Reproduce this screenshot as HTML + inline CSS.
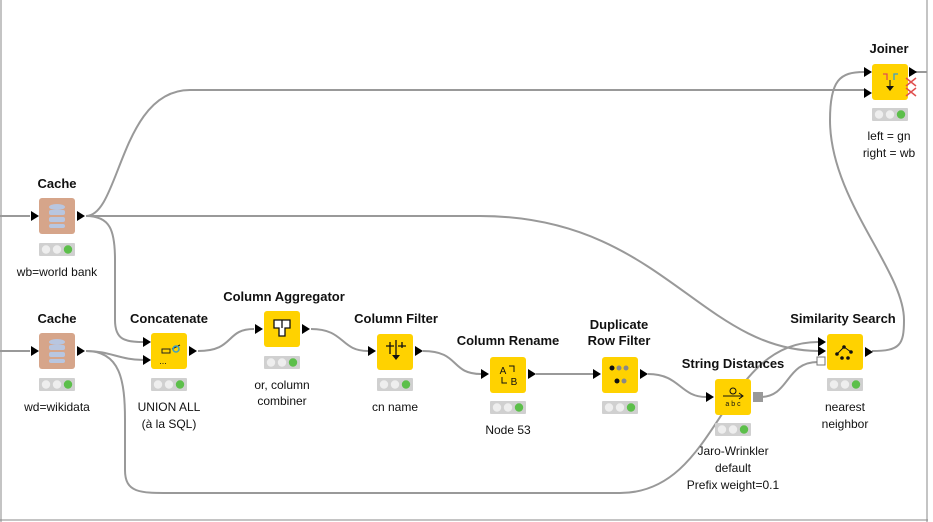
<!DOCTYPE html>
<html><head><meta charset="utf-8"><style>
html,body{margin:0;padding:0;background:#fff}
svg{display:block}
text{font-family:"Liberation Sans",sans-serif;font-size:12px;fill:#111;text-anchor:middle}
.t{font-weight:bold;font-size:13px}
.e{fill:none;stroke:#999;stroke-width:2}
</style></head><body>
<svg width="933" height="522" viewBox="0 0 933 522" xmlns="http://www.w3.org/2000/svg">
<defs>
<g id="st"><rect x="0" y="0" width="36" height="13" rx="1" fill="#d0d0d0"/><circle cx="7" cy="6.5" r="4.2" fill="#eee"/><circle cx="18" cy="6.5" r="4.2" fill="#eee"/><circle cx="29" cy="6.5" r="4.2" fill="#5cbf4a"/></g>
<path id="ar" d="M0,-5 L8,0 L0,5 Z" fill="#000"/>
</defs>
<!-- frame -->
<line x1="1" y1="0" x2="1" y2="522" stroke="#888" stroke-width="1"/>
<line x1="927" y1="0" x2="927" y2="522" stroke="#888" stroke-width="1"/>
<line x1="0" y1="520" x2="928" y2="520" stroke="#888" stroke-width="1"/>

<!-- edges -->
<path class="e" d="M0,216 H30"/>
<path class="e" d="M0,351 H30"/>
<path class="e" d="M86,216 C120,216 120,90 190,90 H864"/>
<path class="e" d="M86,216 C110,216 115,230 115,260 V320 C115,340 125,342 144,342"/>
<path class="e" d="M86,216 H480 C660,216 700,350 818,351"/>
<path class="e" d="M86,351 C110,351 120,360 144,360"/>
<path class="e" d="M86,351 C120,351 125,380 125,420 V470 C125,493 140,493 170,493 H620 C720,493 720,342 818,342"/>
<path class="e" d="M198,351 C235,351 225,329 254,329"/>
<path class="e" d="M311,329 C345,329 340,351 368,351"/>
<path class="e" d="M423,351 C460,351 450,374 481,374"/>
<path class="e" d="M536,374 H593"/>
<path class="e" d="M648,374 C680,374 680,397 706,397"/>
<path class="e" d="M760,397 C790,397 785,362 818,362"/>
<path class="e" d="M872,351 C900,351 904,345 904,320 C904,270 830,200 830,120 C830,80 840,72 864,72"/>
<path class="e" d="M914,72 H927"/>

<!-- Cache wb -->
<text class="t" x="57" y="188">Cache</text>
<use href="#ar" x="31" y="216"/>
<rect x="39" y="198" width="36" height="36" rx="3" fill="#d6a58a"/>
<g fill="#b8c6e0"><ellipse cx="57" cy="207" rx="8" ry="3"/><rect x="49" y="210" width="16" height="5" rx="2"/><rect x="49" y="217" width="16" height="5" rx="2"/><rect x="49" y="224" width="16" height="4" rx="2"/></g>
<use href="#ar" x="77" y="216"/>
<use href="#st" x="39" y="243"/>
<text x="57" y="276">wb=world bank</text>

<!-- Cache wd -->
<text class="t" x="57" y="323">Cache</text>
<use href="#ar" x="31" y="351"/>
<rect x="39" y="333" width="36" height="36" rx="3" fill="#d6a58a"/>
<g fill="#b8c6e0"><ellipse cx="57" cy="342" rx="8" ry="3"/><rect x="49" y="345" width="16" height="5" rx="2"/><rect x="49" y="352" width="16" height="5" rx="2"/><rect x="49" y="359" width="16" height="4" rx="2"/></g>
<use href="#ar" x="77" y="351"/>
<use href="#st" x="39" y="378"/>
<text x="57" y="411">wd=wikidata</text>

<!-- Concatenate -->
<text class="t" x="169" y="323">Concatenate</text>
<use href="#ar" x="143" y="342"/><use href="#ar" x="143" y="360"/>
<rect x="151" y="333" width="36" height="36" rx="3" fill="#ffd200"/>
<path d="M162,349 h8 v4 h-8z M172,349 l8,-4" stroke="#222" fill="none"/><circle cx="176" cy="349" r="3" fill="none" stroke="#3aa0c8" stroke-width="1.5"/>
<text x="163" y="364" style="font-size:9px">...</text>
<use href="#ar" x="189" y="351"/>
<use href="#st" x="151" y="378"/>
<text x="169" y="411">UNION ALL</text><text x="169" y="428">(à la SQL)</text>

<!-- Column Aggregator -->
<text class="t" x="284" y="301">Column Aggregator</text>
<use href="#ar" x="255" y="329"/>
<rect x="264" y="311" width="36" height="36" rx="3" fill="#ffd200"/>
<path d="M274,320 h16 v8 h-5 v8 h-6 v-8 h-5 z M282,320 v8" stroke="#111" fill="#fff" stroke-width="1.3"/>
<use href="#ar" x="302" y="329"/>
<use href="#st" x="264" y="356"/>
<text x="282" y="389">or, column</text><text x="282" y="405">combiner</text>

<!-- Column Filter -->
<text class="t" x="396" y="323">Column Filter</text>
<use href="#ar" x="368" y="351"/>
<rect x="377" y="334" width="36" height="36" rx="3" fill="#ffd200"/>
<path d="M386,346 h8 M398,346 h8 M390,342 v12 M402,342 v6 M396,340 v18" stroke="#111" stroke-width="1.3"/><path d="M392,355 l4,5 l4,-5z" fill="#111"/>
<use href="#ar" x="415" y="351"/>
<use href="#st" x="377" y="378"/>
<text x="395" y="411">cn name</text>

<!-- Column Rename -->
<text class="t" x="508" y="345">Column Rename</text>
<use href="#ar" x="481" y="374"/>
<rect x="490" y="357" width="36" height="36" rx="3" fill="#ffd200"/>
<text x="503" y="374" style="font-size:10px">A</text><text x="514" y="385" style="font-size:10px">B</text>
<path d="M509,366 h5 v6 M502,377 v6 h5" stroke="#111" fill="none"/>
<use href="#ar" x="528" y="374"/>
<use href="#st" x="490" y="401"/>
<text x="508" y="434">Node 53</text>

<!-- Duplicate Row Filter -->
<text class="t" x="619" y="329">Duplicate</text><text class="t" x="619" y="345">Row Filter</text>
<use href="#ar" x="593" y="374"/>
<rect x="602" y="357" width="36" height="36" rx="3" fill="#ffd200"/>
<circle cx="612" cy="368" r="2.5" fill="#111"/><circle cx="619" cy="368" r="2.5" fill="#888"/><circle cx="626" cy="368" r="2.5" fill="#888"/>
<circle cx="617" cy="381" r="2.5" fill="#111"/><circle cx="624" cy="381" r="2.5" fill="#888"/>
<use href="#ar" x="640" y="374"/>
<use href="#st" x="602" y="401"/>

<!-- String Distances -->
<text class="t" x="733" y="368">String Distances</text>
<use href="#ar" x="706" y="397"/>
<rect x="715" y="379" width="36" height="36" rx="3" fill="#ffd200"/>
<path d="M723,396 h20 M739,393 l4,3 l-4,3" stroke="#111" fill="none"/><circle cx="733" cy="391" r="3" fill="none" stroke="#111"/>
<text x="733" y="406" style="font-size:7px">a b c</text>
<rect x="753" y="392" width="10" height="10" fill="#999"/>
<use href="#st" x="715" y="423"/>
<text x="733" y="455">Jaro-Wrinkler</text><text x="733" y="472">default</text><text x="733" y="489">Prefix weight=0.1</text>

<!-- Similarity Search -->
<text class="t" x="843" y="323">Similarity Search</text>
<use href="#ar" x="818" y="342"/><use href="#ar" x="818" y="351"/>
<rect x="817" y="357" width="8" height="8" fill="#fff" stroke="#777"/>
<rect x="827" y="334" width="36" height="36" rx="3" fill="#ffd200"/>
<path d="M837,354 l7,-7 l7,5" stroke="#111" fill="none"/><circle cx="844" cy="347" r="1.8" fill="#111"/><circle cx="837" cy="354" r="1.8" fill="#111"/><circle cx="851" cy="352" r="1.8" fill="#111"/><circle cx="842" cy="358" r="1.8" fill="#111"/><circle cx="848" cy="358" r="1.8" fill="#111"/>
<use href="#ar" x="865" y="352"/>
<use href="#st" x="827" y="378"/>
<text x="845" y="411">nearest</text><text x="845" y="428">neighbor</text>

<!-- Joiner -->
<text class="t" x="889" y="53">Joiner</text>
<use href="#ar" x="864" y="72"/><use href="#ar" x="864" y="93"/>
<rect x="872" y="64" width="36" height="36" rx="3" fill="#ffd200"/>
<path d="M883,74 h4 v6" stroke="#e05050" fill="none" stroke-width="1.3"/><path d="M894,80 v-6 h4" stroke="#3aa0c8" fill="none" stroke-width="1.3"/>
<path d="M890,80 v8" stroke="#111"/><path d="M886,86 l4,5 l4,-5z" fill="#111"/>
<path d="M906,78 l10,8 M916,78 l-10,8 M906,88 l10,8 M916,88 l-10,8" stroke="#e05050" stroke-width="1.5"/>
<use href="#ar" x="909" y="72"/>
<use href="#st" x="872" y="108"/>
<text x="889" y="140">left = gn</text><text x="889" y="157">right = wb</text>
</svg>
</body></html>
